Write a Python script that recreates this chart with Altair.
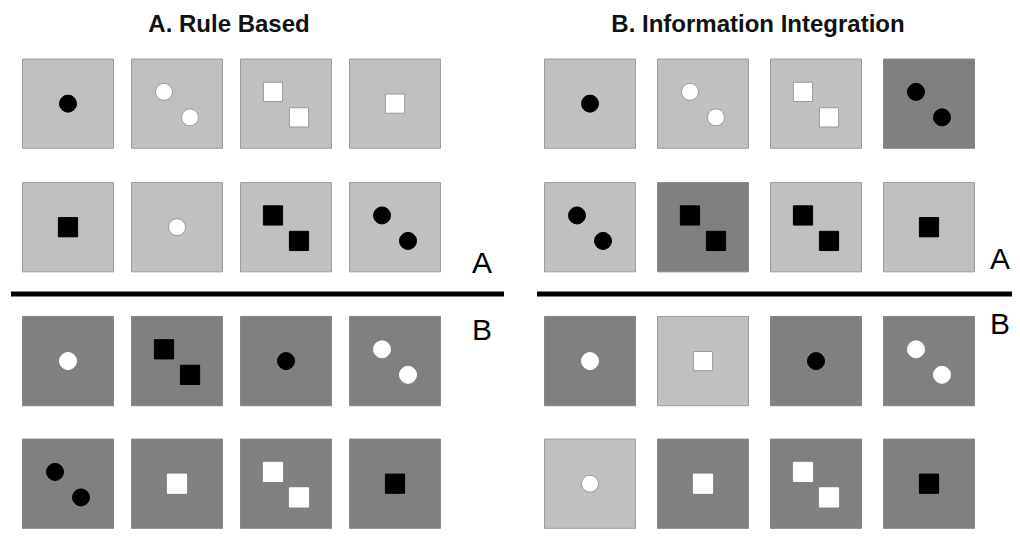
import altair as alt
import pandas as pd

# ---------------- data ----------------
panel_titles = ["A. Rule Based", "B. Information Integration"]
category_labels = ["A", "B"]

# 4 rows x 4 columns per panel, row-major
background = [
    ["light", "light", "light", "light",
     "light", "light", "light", "light",
     "dark", "dark", "dark", "dark",
     "dark", "dark", "dark", "dark"],
    ["light", "light", "light", "dark",
     "light", "dark", "light", "light",
     "dark", "light", "dark", "dark",
     "light", "dark", "dark", "dark"],
]
shape = [
    ["circle", "circle", "square", "square",
     "square", "circle", "square", "circle",
     "circle", "square", "circle", "circle",
     "circle", "square", "square", "square"],
    ["circle", "circle", "square", "circle",
     "circle", "square", "square", "square",
     "circle", "square", "circle", "circle",
     "circle", "square", "square", "square"],
]
count = [
    [1, 2, 2, 1,
     1, 1, 2, 2,
     1, 2, 1, 2,
     2, 1, 2, 1],
    [1, 2, 2, 2,
     2, 2, 2, 1,
     1, 1, 1, 2,
     1, 1, 2, 1],
]
colour = [
    ["black", "white", "white", "white",
     "black", "white", "black", "black",
     "white", "black", "black", "white",
     "black", "white", "white", "black"],
    ["black", "white", "white", "black",
     "black", "black", "black", "black",
     "white", "white", "black", "white",
     "white", "white", "white", "black"],
]

# ---------------- layout (styling, not data) ----------------
col_x0 = [68, 590]
col_pitch = [109, 113]
row_y = [105.5, 231.5, 368, 493]
half = 45.5
pair_offsets = [(-13, -12), (13, 14)]
bg_fill = {"light": "#c0c0c0", "dark": "#808080"}
bg_stroke = {"light": "#9c9c9c", "dark": "#868686"}
ink = {"black": "#000000", "white": "#ffffff"}
sym_size = {"circle": 290, "square": 370}
title_x = [229, 758]
title_base = 32
label_x = [472, 990]
label_base = {"A": [278, 274], "B": [346, 340]}
line_x = [(11, 504), (537, 1020)]
line_y = 299.5

cells, marks, titles, labels, lines = [], [], [], [], []
for p in range(2):
    for i in range(16):
        r, c = divmod(i, 4)
        cx = col_x0[p] + c * col_pitch[p]
        cy = row_y[r]
        bg = background[p][i]
        cells.append(dict(x=cx - half, x2=cx + half, y=cy - half, y2=cy + half,
                          fill=bg_fill[bg], stroke=bg_stroke[bg]))
        offs = [(0, 0)] if count[p][i] == 1 else pair_offsets
        for dx, dy in offs:
            col = colour[p][i]
            outline = "#9a9a9a" if (col == "white" and bg == "light") else ink[col]
            marks.append(dict(x=cx + dx, y=cy + dy, shape=shape[p][i],
                              fill=ink[col], stroke=outline,
                              size=sym_size[shape[p][i]]))
    titles.append(dict(x=title_x[p], y=title_base, text=panel_titles[p]))
    for lab in category_labels:
        labels.append(dict(x=label_x[p], y=label_base[lab][p], text=lab))
    lines.append(dict(x=line_x[p][0], x2=line_x[p][1], y=line_y))

cells = pd.DataFrame(cells)
marks = pd.DataFrame(marks)
titles = pd.DataFrame(titles)
labels = pd.DataFrame(labels)
lines = pd.DataFrame(lines)

xs = alt.Scale(domain=[8, 1012], nice=False, zero=False)
ys = alt.Scale(domain=[8, 529], nice=False, zero=False, reverse=True)

bg_layer = alt.Chart(cells).mark_rect(strokeWidth=1).encode(
    x=alt.X("x:Q", scale=xs, axis=None),
    x2="x2:Q",
    y=alt.Y("y:Q", scale=ys, axis=None),
    y2="y2:Q",
    fill=alt.Fill("fill:N", scale=None),
    stroke=alt.Stroke("stroke:N", scale=None),
)

sym_layer = alt.Chart(marks).mark_point(filled=True, strokeWidth=1, opacity=1).encode(
    x=alt.X("x:Q", scale=xs, axis=None),
    y=alt.Y("y:Q", scale=ys, axis=None),
    shape=alt.Shape("shape:N", scale=None),
    fill=alt.Fill("fill:N", scale=None),
    stroke=alt.Stroke("stroke:N", scale=None),
    size=alt.Size("size:Q", scale=None),
)

line_layer = alt.Chart(lines).mark_rule(strokeWidth=5, color="#000000", clip=True).encode(
    x=alt.X("x:Q", scale=xs, axis=None),
    x2="x2:Q",
    y=alt.Y("y:Q", scale=ys, axis=None),
)

title_layer = alt.Chart(titles).mark_text(
    font="Liberation Sans", fontWeight="bold", fontSize=24,
    align="center", baseline="alphabetic", color="#111111",
).encode(
    x=alt.X("x:Q", scale=xs, axis=None),
    y=alt.Y("y:Q", scale=ys, axis=None),
    text="text:N",
)

label_layer = alt.Chart(labels).mark_text(
    font="Liberation Sans", fontSize=30, align="left",
    baseline="alphabetic", color="#000000",
).encode(
    x=alt.X("x:Q", scale=xs, axis=None),
    y=alt.Y("y:Q", scale=ys, axis=None),
    text="text:N",
)

chart = alt.layer(bg_layer, sym_layer, line_layer, title_layer, label_layer).properties(
    width=1004, height=521, padding=0,
    autosize=alt.AutoSizeParams(type="fit", contains="padding"),
).configure_view(stroke=None)

chart.save("out.html", embed_options={"renderer": "svg", "actions": False})
